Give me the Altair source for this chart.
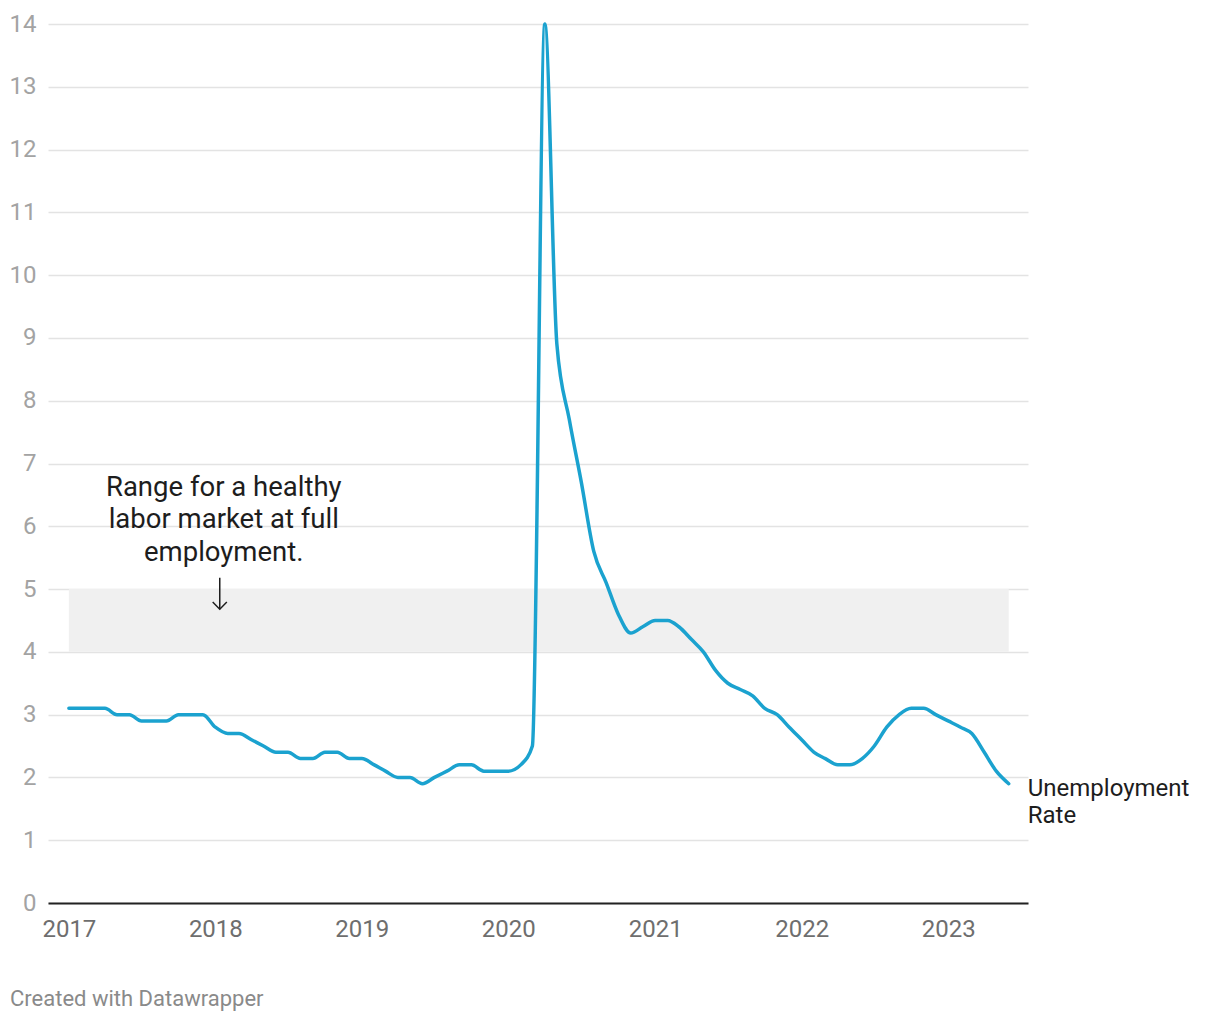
import altair as alt
import pandas as pd

# Monthly unemployment rate, Jan 2017 - Jun 2023
months = pd.date_range("2017-01-01", "2023-06-01", freq="MS").strftime("%Y-%m-%d").tolist()
rate = [
    3.1, 3.1, 3.1, 3.1, 3.0, 3.0, 2.9, 2.9, 2.9, 3.0, 3.0, 3.0,   # 2017
    2.8, 2.7, 2.7, 2.6, 2.5, 2.4, 2.4, 2.3, 2.3, 2.4, 2.4, 2.3,   # 2018
    2.3, 2.2, 2.1, 2.0, 2.0, 1.9, 2.0, 2.1, 2.2, 2.2, 2.1, 2.1,   # 2019
    2.1, 2.2, 2.5, 14.0, 8.9, 7.7, 6.7, 5.6, 5.1, 4.6, 4.3, 4.4,  # 2020
    4.5, 4.5, 4.4, 4.2, 4.0, 3.7, 3.5, 3.4, 3.3, 3.1, 3.0, 2.8,   # 2021
    2.6, 2.4, 2.3, 2.2, 2.2, 2.3, 2.5, 2.8, 3.0, 3.1, 3.1, 3.0,   # 2022
    2.9, 2.8, 2.7, 2.4, 2.1, 1.9,                                 # 2023
]
series_label = "Unemployment\nRate"

# Healthy range band
band_start = ["2017-01-01"]
band_end = ["2023-06-01"]
band_low = [4]
band_high = [5]

# Annotation
note_text = ["Range for a healthy\nlabor market at full\nemployment."]
note_date = ["2018-01-22"]
note_y = [6.49]
arrow_date = ["2018-01-12"]
arrow_top = [5.18]
arrow_bottom = [4.68]

year_ticks = list(range(2017, 2024))
y_ticks = list(range(0, 15))

FONT = "Roboto"

df = pd.DataFrame({"date": months, "rate": rate})
band_df = pd.DataFrame({"start": band_start, "end": band_end, "low": band_low, "high": band_high})
note_df = pd.DataFrame({"date": note_date, "y": note_y, "text": note_text})
arrow_df = pd.DataFrame({"date": arrow_date, "top": arrow_top, "bottom": arrow_bottom})
last_df = pd.DataFrame({"date": [months[-1]], "rate": [rate[-1]], "text": [series_label]})
footer_df = pd.DataFrame({"text": ["Created with Datawrapper"]})

xscale = alt.Scale(
    type="utc",
    domain=[alt.DateTime(year=2016, month=11, date=10, utc=True),
            alt.DateTime(year=2023, month=7, date=19, utc=True)],
)
yscale = alt.Scale(domain=[0, 14], nice=False)

xaxis = alt.Axis(
    values=[alt.DateTime(year=y, month=1, date=1, utc=True) for y in year_ticks],
    format="%Y", title=None, grid=False, ticks=False,
    domainColor="#222222", domainWidth=2,
    labelColor="#6e6e6e", labelFontSize=24, labelFont=FONT,
    labelPadding=14, labelFlush=False,
)
yaxis = alt.Axis(
    values=y_ticks, format="d", title=None, domain=False, ticks=False,
    grid=True, gridColor="#e3e3e3", gridWidth=1.5,
    labelColor="#a3a3a3", labelFontSize=24, labelFont=FONT, labelPadding=12,
)

band = alt.Chart(band_df).mark_rect(color="#f0f0f0").encode(
    x=alt.X("start:T", scale=xscale, axis=xaxis),
    x2="end:T",
    y=alt.Y("low:Q", scale=yscale, axis=yaxis),
    y2="high:Q",
)

line = alt.Chart(df).mark_line(
    interpolate="monotone", color="#1ba2cf", strokeWidth=3.5, strokeCap="round", strokeJoin="round"
).encode(
    x=alt.X("date:T", scale=xscale),
    y=alt.Y("rate:Q", scale=yscale),
)

label = alt.Chart(last_df).mark_text(
    align="left", baseline="alphabetic", dx=19, dy=12, lineBreak="\n", lineHeight=27,
    font=FONT, fontSize=24, color="#1d1d1d",
).encode(
    x=alt.X("date:T", scale=xscale),
    y=alt.Y("rate:Q", scale=yscale),
    text="text:N",
)

note = alt.Chart(note_df).mark_text(
    align="center", baseline="alphabetic", lineBreak="\n", lineHeight=32.5,
    font=FONT, fontSize=27.5, color="#1d1d1d",
).encode(
    x=alt.X("date:T", scale=xscale),
    y=alt.Y("y:Q", scale=yscale),
    text="text:N",
)

arrow_shaft = alt.Chart(arrow_df).mark_rule(color="#1d1d1d", strokeWidth=1.5).encode(
    x=alt.X("date:T", scale=xscale),
    y=alt.Y("top:Q", scale=yscale),
    y2="bottom:Q",
)
arrow_head = alt.Chart(arrow_df).mark_point(
    shape="M-1,-1L0,0L1,-1", filled=False, color="#1d1d1d", strokeWidth=1.5, size=200, opacity=1,
).encode(
    x=alt.X("date:T", scale=xscale),
    y=alt.Y("bottom:Q", scale=yscale),
)

footer = alt.Chart(footer_df).mark_text(
    align="left", baseline="alphabetic", font=FONT, fontSize=22, color="#8a8a8a",
).encode(
    x=alt.value(-38), y=alt.value(982), text="text:N",
)

chart = alt.layer(band, line, label, note, arrow_shaft, arrow_head, footer).properties(
    width=980, height=879,
    autosize=alt.AutoSizeParams(type="none"),
    padding={"left": 48, "top": 24, "right": 192, "bottom": 117},
    background="white",
).configure_view(stroke=None)

chart.save("out.html", embed_options={"renderer": "svg", "actions": False})
